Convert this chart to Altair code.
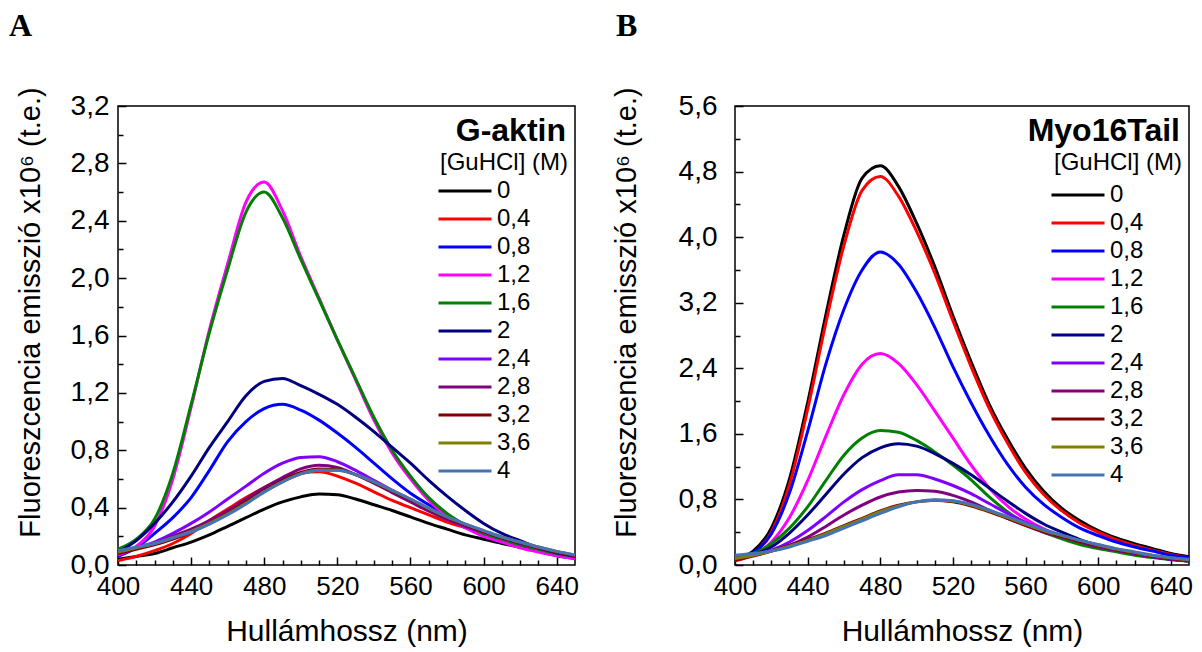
import altair as alt
import pandas as pd

# ---------------- data ----------------
WAVELENGTH = list(range(400, 651, 10))
CONC = ["0", "0,4", "0,8", "1,2", "1,6", "2", "2,4", "2,8", "3,2", "3,6", "4"]
COLORS = ["#000000", "#ff0000", "#0000ff", "#ff00ff", "#008000", "#000080",
          "#8000ff", "#800080", "#800000", "#808000", "#4472b4"]

X_LABELS = [400, 440, 480, 520, 560, 600, 640]
X_TICKS = list(range(400, 650, 10))
GA_Y_LABELS = [0, 0.4, 0.8, 1.2, 1.6, 2.0, 2.4, 2.8, 3.2]
GA_Y_TICKS = [round(0.2 * i, 1) for i in range(17)]
MY_Y_LABELS = [0, 0.8, 1.6, 2.4, 3.2, 4.0, 4.8, 5.6]
MY_Y_TICKS = [round(0.4 * i, 1) for i in range(15)]

# G-aktin panel (A)
GA_00 = [0.04, 0.06, 0.08, 0.12, 0.16, 0.21, 0.27, 0.33, 0.39, 0.44, 0.475, 0.495, 0.49,
         0.46, 0.42, 0.38, 0.335, 0.29, 0.25, 0.21, 0.18, 0.15, 0.125, 0.10, 0.075, 0.055]
GA_04 = [0.03, 0.06, 0.10, 0.15, 0.22, 0.31, 0.39, 0.47, 0.54, 0.60, 0.64, 0.65, 0.62,
         0.57, 0.51, 0.45, 0.40, 0.35, 0.30, 0.26, 0.22, 0.18, 0.15, 0.115, 0.085, 0.06]
GA_08 = [0.06, 0.12, 0.22, 0.33, 0.47, 0.66, 0.86, 1.00, 1.09, 1.12, 1.08, 1.01, 0.92,
         0.82, 0.71, 0.60, 0.50, 0.42, 0.35, 0.28, 0.22, 0.17, 0.13, 0.095, 0.065, 0.045]
GA_12 = [0.07, 0.13, 0.27, 0.60, 1.10, 1.64, 2.10, 2.53, 2.67, 2.47, 2.15, 1.86, 1.57,
         1.29, 1.01, 0.78, 0.60, 0.45, 0.34, 0.26, 0.20, 0.16, 0.12, 0.09, 0.065, 0.045]
GA_16 = [0.11, 0.18, 0.32, 0.64, 1.12, 1.62, 2.06, 2.46, 2.60, 2.42, 2.13, 1.85, 1.57,
         1.30, 1.03, 0.80, 0.62, 0.47, 0.36, 0.28, 0.22, 0.18, 0.14, 0.11, 0.08, 0.06]
GA_20 = [0.09, 0.17, 0.29, 0.44, 0.62, 0.82, 1.00, 1.18, 1.28, 1.30, 1.25, 1.19, 1.12,
         1.03, 0.93, 0.82, 0.71, 0.59, 0.48, 0.38, 0.29, 0.22, 0.17, 0.12, 0.085, 0.06]
GA_24 = [0.08, 0.12, 0.16, 0.22, 0.29, 0.37, 0.46, 0.55, 0.64, 0.71, 0.75, 0.755, 0.72,
         0.66, 0.59, 0.52, 0.45, 0.38, 0.32, 0.27, 0.23, 0.19, 0.15, 0.12, 0.09, 0.065]
GA_28 = [0.09, 0.12, 0.15, 0.20, 0.25, 0.31, 0.38, 0.46, 0.54, 0.61, 0.67, 0.695, 0.68,
         0.63, 0.57, 0.505, 0.44, 0.375, 0.32, 0.27, 0.23, 0.19, 0.15, 0.12, 0.09, 0.065]
GA_32 = [0.08, 0.11, 0.14, 0.18, 0.23, 0.29, 0.36, 0.44, 0.52, 0.59, 0.645, 0.67, 0.665,
         0.63, 0.575, 0.515, 0.455, 0.39, 0.33, 0.28, 0.235, 0.19, 0.155, 0.12, 0.09, 0.065]
GA_36 = [0.09, 0.12, 0.15, 0.19, 0.235, 0.29, 0.355, 0.43, 0.51, 0.58, 0.635, 0.66, 0.66,
         0.63, 0.58, 0.52, 0.46, 0.395, 0.335, 0.285, 0.24, 0.195, 0.16, 0.125, 0.095, 0.07]
GA_40 = [0.10, 0.125, 0.15, 0.19, 0.23, 0.285, 0.35, 0.425, 0.51, 0.58, 0.635, 0.66, 0.66,
         0.63, 0.58, 0.52, 0.46, 0.395, 0.335, 0.285, 0.24, 0.195, 0.16, 0.125, 0.095, 0.07]

# Myo16Tail panel (B)
MY_00 = [0.08, 0.17, 0.45, 1.05, 1.98, 3.05, 4.03, 4.72, 4.87, 4.62, 4.17, 3.64, 3.04,
         2.48, 1.96, 1.54, 1.18, 0.90, 0.69, 0.54, 0.42, 0.33, 0.26, 0.20, 0.14, 0.10]
MY_04 = [0.05, 0.14, 0.40, 0.98, 1.90, 2.95, 3.90, 4.57, 4.74, 4.50, 4.07, 3.56, 2.98,
         2.42, 1.91, 1.49, 1.13, 0.86, 0.66, 0.51, 0.40, 0.31, 0.24, 0.18, 0.13, 0.09]
MY_08 = [0.08, 0.15, 0.38, 0.88, 1.63, 2.45, 3.12, 3.60, 3.82, 3.67, 3.33, 2.90, 2.42,
         1.98, 1.58, 1.23, 0.95, 0.74, 0.58, 0.45, 0.36, 0.28, 0.22, 0.17, 0.12, 0.09]
MY_12 = [0.07, 0.12, 0.28, 0.58, 1.03, 1.57, 2.08, 2.45, 2.58, 2.46, 2.20, 1.88, 1.55,
         1.22, 0.94, 0.72, 0.56, 0.44, 0.35, 0.28, 0.22, 0.17, 0.13, 0.10, 0.075, 0.055]
MY_16 = [0.10, 0.14, 0.26, 0.45, 0.71, 1.03, 1.34, 1.55, 1.64, 1.62, 1.52, 1.38, 1.22,
         1.04, 0.83, 0.65, 0.51, 0.40, 0.32, 0.25, 0.20, 0.16, 0.12, 0.09, 0.065, 0.05]
MY_20 = [0.09, 0.13, 0.22, 0.39, 0.61, 0.86, 1.11, 1.31, 1.43, 1.48, 1.45, 1.36, 1.24,
         1.10, 0.94, 0.78, 0.63, 0.50, 0.40, 0.31, 0.24, 0.19, 0.14, 0.10, 0.07, 0.05]
MY_24 = [0.10, 0.13, 0.18, 0.28, 0.42, 0.59, 0.77, 0.92, 1.03, 1.10, 1.10, 1.05, 0.97,
         0.87, 0.75, 0.63, 0.52, 0.43, 0.36, 0.29, 0.23, 0.18, 0.14, 0.10, 0.07, 0.05]
MY_28 = [0.09, 0.12, 0.17, 0.24, 0.34, 0.47, 0.61, 0.73, 0.83, 0.89, 0.91, 0.90, 0.85,
         0.77, 0.67, 0.57, 0.48, 0.40, 0.34, 0.28, 0.22, 0.18, 0.14, 0.10, 0.07, 0.05]
MY_32 = [0.06, 0.11, 0.17, 0.24, 0.31, 0.39, 0.48, 0.57, 0.66, 0.73, 0.77, 0.79, 0.77,
         0.72, 0.65, 0.57, 0.49, 0.41, 0.35, 0.29, 0.24, 0.19, 0.15, 0.11, 0.08, 0.06]
MY_36 = [0.08, 0.12, 0.17, 0.23, 0.30, 0.38, 0.47, 0.56, 0.65, 0.72, 0.77, 0.79, 0.78,
         0.73, 0.66, 0.58, 0.50, 0.42, 0.36, 0.30, 0.245, 0.195, 0.155, 0.115, 0.085, 0.065]
MY_40 = [0.12, 0.14, 0.17, 0.22, 0.29, 0.36, 0.45, 0.54, 0.63, 0.71, 0.77, 0.795, 0.785,
         0.74, 0.67, 0.59, 0.51, 0.43, 0.365, 0.30, 0.25, 0.20, 0.16, 0.12, 0.09, 0.07]

GA_SERIES = [GA_00, GA_04, GA_08, GA_12, GA_16, GA_20, GA_24, GA_28, GA_32, GA_36, GA_40]
MY_SERIES = [MY_00, MY_04, MY_08, MY_12, MY_16, MY_20, MY_24, MY_28, MY_32, MY_36, MY_40]

FONT = "Liberation Sans"
Y_TITLE = "Fluoreszcencia emisszió x10⁶ (t.e.)"
X_TITLE = "Hullámhossz (nm)"
LEGEND_HEAD = "[GuHCl] (M)"


def long_df(series):
    rows = []
    for k, (c, vals) in enumerate(zip(CONC, series)):
        for nm, v in zip(WAVELENGTH, vals):
            rows.append({"nm": nm, "v": v, "c": c, "k": k})
    return pd.DataFrame(rows)


def panel(series, ymax, ylabels, yticks, ymajor, width, height, name, letter,
          legend_x, legend_y, ylab_pad, ytitle_pad, letter_dx):
    df = long_df(series)
    xs = alt.Scale(domain=[400, 650], nice=False, zero=False)
    ys = alt.Scale(domain=[0, ymax], nice=False, zero=False)
    comma = "replace(format(datum.value, '.1f'), '.', ',')"

    lines = alt.Chart(df).mark_line(strokeWidth=3, interpolate="monotone").encode(
        x=alt.X("nm:Q", scale=xs, axis=alt.Axis(
            values=X_LABELS, ticks=False, domain=False, grid=False,
            labelFontSize=26, labelPadding=8, labelFlush=False, labelOverlap=False,
            title=X_TITLE, titleFontSize=30, titlePadding=17)),
        y=alt.Y("v:Q", scale=ys, axis=alt.Axis(
            values=ylabels, ticks=False, domain=False, grid=False,
            labelExpr=comma, labelFontSize=28, labelPadding=ylab_pad,
            labelFlush=False, labelOverlap=False,
            title=Y_TITLE, titleFontSize=29, titlePadding=ytitle_pad,
            titleY=206)),
        color=alt.Color("c:N", scale=alt.Scale(domain=CONC, range=COLORS),
                        legend=alt.Legend(
                            orient="none", legendX=legend_x, legendY=legend_y,
                            title=None, symbolType="stroke", symbolSize=2809,
                            symbolStrokeWidth=3, labelFontSize=24, labelFont=FONT,
                            labelColor="black", clipHeight=28, rowPadding=0,
                            padding=0, labelOffset=4)),
        order=alt.Order("k:Q"),
    )

    ticks = alt.Chart(df).mark_point(opacity=0).encode(
        x=alt.X("nm:Q", scale=xs, axis=alt.Axis(
            orient="top", offset=-height, values=X_TICKS, labels=False,
            domain=False, grid=False, title=None, tickColor="black", tickWidth=1.5,
            minExtent=0, maxExtent=0,
            tickSize={"condition": {"test": "datum.value % 40 === 0", "value": 8},
                      "value": 5})),
        y=alt.Y("v:Q", scale=ys, axis=alt.Axis(
            orient="right", offset=-width, values=yticks, labels=False,
            domain=False, grid=False, title=None, tickColor="black", tickWidth=1.5,
            minExtent=0, maxExtent=0,
            tickSize={"condition": {"test": f"abs(datum.value / {ymajor} - round(datum.value / {ymajor})) < 0.001",
                                    "value": 8}, "value": 5})),
    )

    name_df = pd.DataFrame({"t": [name]})
    head_df = pd.DataFrame({"t": [LEGEND_HEAD]})
    name_txt = alt.Chart(name_df).mark_text(
        align="right", baseline="alphabetic", font=FONT, fontSize=32,
        fontWeight="bold", color="black").encode(
        text="t:N", x=alt.value(width - 9), y=alt.value(35))
    head_txt = alt.Chart(head_df).mark_text(
        align="right", baseline="alphabetic", font=FONT, fontSize=24,
        color="black").encode(
        text="t:N", x=alt.value(width - 7), y=alt.value(64))

    return alt.layer(lines, ticks, name_txt, head_txt).resolve_axis(
        x="independent", y="independent").properties(
        width=width, height=height,
        title=alt.TitleParams(letter, anchor="start", frame="bounds",
                              font="Liberation Serif", fontSize=32, fontWeight="bold",
                              color="black", baseline="alphabetic", offset=19,
                              dx=letter_dx))


left = panel(GA_SERIES, 3.2, GA_Y_LABELS, GA_Y_TICKS, 0.4, 457, 459, "G-aktin", "A",
             319, 71, 9, 25, -7)
right = panel(MY_SERIES, 5.6, MY_Y_LABELS, MY_Y_TICKS, 0.8, 454, 459, "Myo16Tail", "B",
              315, 75, 18, 37, 4)

chart = alt.hconcat(left, right, spacing=29).resolve_scale(
    x="independent", y="independent", color="independent").resolve_legend(
    color="independent").properties(
    padding={"left": 8, "top": 9, "right": 5, "bottom": 0},
    background="white").configure_view(
    stroke="black", strokeWidth=1.5).configure_axis(
    labelFont=FONT, titleFont=FONT, labelColor="black", titleColor="black",
    titleFontWeight="normal")

chart.save("out.html", embed_options={"renderer": "svg", "actions": False})
